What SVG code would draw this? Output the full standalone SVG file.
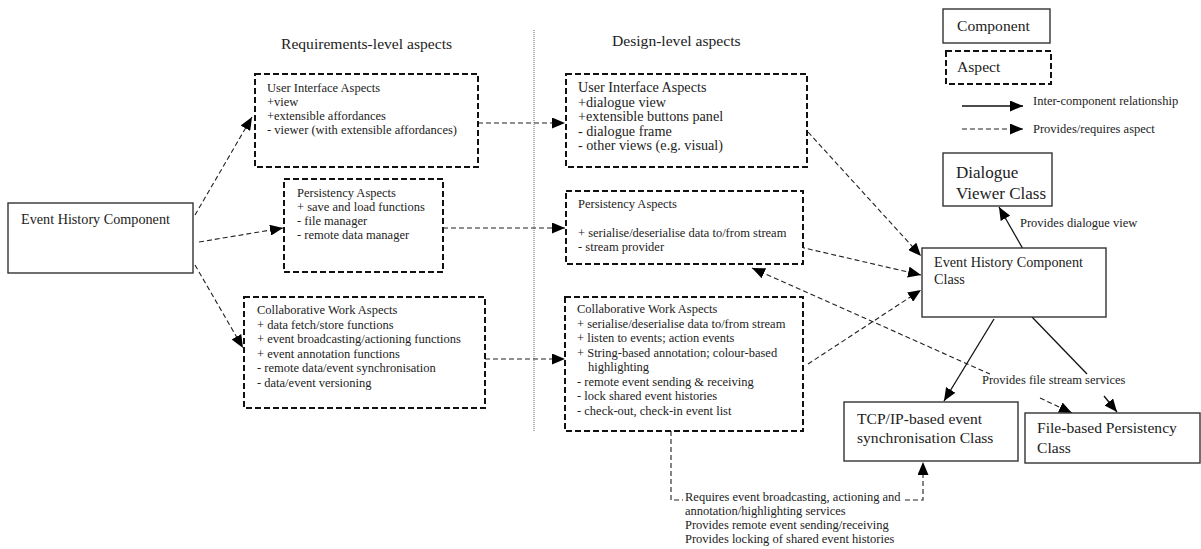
<svg xmlns="http://www.w3.org/2000/svg" width="1201" height="549" viewBox="0 0 1201 549">
  <style>
    text { font-family: "Liberation Serif", "Times New Roman", serif; fill: #222; }
    .t12 { font-size: 12.5px; }
    .t14 { font-size: 14.2px; }
    .t15 { font-size: 15.6px; }
    .t16 { font-size: 17px; }
    .comp { fill: #fff; stroke: #333; stroke-width: 1.4; }
    .aspect { fill: #fff; stroke: #111; stroke-width: 2; stroke-dasharray: 6 3; }
    .dash { fill: none; stroke: #222; stroke-width: 1.1; stroke-dasharray: 5 3; }
    .solid { fill: none; stroke: #111; stroke-width: 1.3; }
    .divider { stroke: #666; stroke-width: 1; stroke-dasharray: 1 1; }
  </style>
  <defs>
    <marker id="arrow" markerUnits="userSpaceOnUse" markerWidth="13" markerHeight="11" refX="13" refY="5.5" orient="auto">
      <path d="M0,0 L13,5.5 L0,11 z" fill="#000"/>
    </marker>
    <marker id="arrowStart" markerUnits="userSpaceOnUse" markerWidth="13" markerHeight="11" refX="0" refY="5.5" orient="auto">
      <path d="M13,0 L0,5.5 L13,11 z" fill="#000"/>
    </marker>
  </defs>

  <!-- column headings and divider -->
  <g id="headings">
    <text class="t15" x="281" y="49">Requirements-level aspects</text>
    <text class="t15" x="612" y="46">Design-level aspects</text>
    <line class="divider" x1="534" y1="30" x2="534" y2="432"/>
  </g>

  <!-- legend -->
  <g id="legend">
    <rect class="comp" x="943" y="9" width="107" height="34"/>
    <text class="t15" x="957" y="31">Component</text>
    <rect class="aspect" x="946" y="51" width="105" height="33"/>
    <text class="t15" x="957" y="72">Aspect</text>
    <line class="solid" x1="962" y1="106" x2="1023" y2="106" marker-end="url(#arrow)"/>
    <text class="t12" x="1033" y="105">Inter-component relationship</text>
    <line class="dash" x1="962" y1="129" x2="1023" y2="129" marker-end="url(#arrow)"/>
    <text class="t12" x="1033" y="133">Provides/requires aspect</text>
  </g>

  <!-- connectors -->
  <g id="connectors">
    <!-- component to requirements-level aspects -->
    <line class="dash" x1="195" y1="215" x2="252" y2="117" marker-end="url(#arrow)"/>
    <line class="dash" x1="199" y1="242" x2="283" y2="228" marker-end="url(#arrow)"/>
    <line class="dash" x1="195" y1="265" x2="243" y2="348" marker-end="url(#arrow)"/>
    <!-- requirements-level to design-level -->
    <line class="dash" x1="478" y1="123" x2="565" y2="123" marker-end="url(#arrow)"/>
    <line class="dash" x1="443" y1="228" x2="565" y2="228" marker-end="url(#arrow)"/>
    <line class="dash" x1="485" y1="359" x2="565" y2="359" marker-end="url(#arrow)"/>
    <!-- design-level aspects to component class -->
    <line class="dash" x1="808" y1="132" x2="921" y2="256" marker-end="url(#arrow)"/>
    <line class="dash" x1="800" y1="247" x2="921" y2="275" marker-end="url(#arrow)"/>
    <line class="dash" x1="808" y1="364" x2="921" y2="290" marker-end="url(#arrow)"/>
    <!-- file stream services (interrupted by its label) -->
    <line class="dash" x1="752" y1="268" x2="990" y2="374" marker-start="url(#arrowStart)"/>
    <line class="dash" x1="1040" y1="398" x2="1072" y2="413" marker-end="url(#arrow)"/>
    <!-- inter-component relationships -->
    <line class="solid" x1="1023" y1="249" x2="999" y2="207" marker-end="url(#arrow)"/>
    <line class="solid" x1="994" y1="319" x2="944" y2="401" marker-end="url(#arrow)"/>
    <line class="solid" x1="1032" y1="317" x2="1087" y2="374"/>
    <line class="solid" x1="1104" y1="396" x2="1117" y2="412" marker-end="url(#arrow)"/>
    <!-- collaborative work to TCP/IP class -->
    <polyline class="dash" points="671,431 671,500 683,500"/>
    <polyline class="dash" points="905,500 923,500 923,462" marker-end="url(#arrow)"/>
  </g>

  <g id="event-history-component">
    <rect class="comp" x="8" y="203" width="185" height="70"/>
    <text class="t14" x="21" y="224">Event History Component</text>
  </g>

  <g id="req-ui-aspects">
    <rect class="aspect" x="255" y="74" width="223" height="93"/>
    <text class="t12" x="267" y="92">User Interface Aspects</text>
    <text class="t12" x="267" y="106">+view</text>
    <text class="t12" x="267" y="120">+extensible affordances</text>
    <text class="t12" x="267" y="134">- viewer (with extensible affordances)</text>
  </g>

  <g id="req-persistency-aspects">
    <rect class="aspect" x="284" y="179" width="159" height="93"/>
    <text class="t12" x="297" y="197">Persistency Aspects</text>
    <text class="t12" x="297" y="211">+ save and load functions</text>
    <text class="t12" x="297" y="225">- file manager</text>
    <text class="t12" x="297" y="239">- remote data manager</text>
  </g>

  <g id="req-collab-aspects">
    <rect class="aspect" x="244" y="297" width="241" height="111"/>
    <text class="t12" x="257" y="314">Collaborative Work Aspects</text>
    <text class="t12" x="257" y="328.5">+ data fetch/store functions</text>
    <text class="t12" x="257" y="343">+ event broadcasting/actioning functions</text>
    <text class="t12" x="257" y="357.5">+ event annotation functions</text>
    <text class="t12" x="257" y="372">- remote data/event synchronisation</text>
    <text class="t12" x="257" y="386.5">- data/event versioning</text>
  </g>

  <g id="design-ui-aspects">
    <rect class="aspect" x="566" y="74" width="241" height="93"/>
    <text class="t14" x="578" y="92">User Interface Aspects</text>
    <text class="t14" x="578" y="106.5">+dialogue view</text>
    <text class="t14" x="578" y="121">+extensible buttons panel</text>
    <text class="t14" x="578" y="135.5">- dialogue frame</text>
    <text class="t14" x="578" y="150">- other views (e.g. visual)</text>
  </g>

  <g id="design-persistency-aspects">
    <rect class="aspect" x="566" y="191" width="237" height="73"/>
    <text class="t12" x="578" y="208">Persistency Aspects</text>
    <text class="t12" x="578" y="237">+ serialise/deserialise data to/from stream</text>
    <text class="t12" x="578" y="251">- stream provider</text>
  </g>

  <g id="design-collab-aspects">
    <rect class="aspect" x="565" y="297" width="238" height="134"/>
    <text class="t12" x="577" y="313">Collaborative Work Aspects</text>
    <text class="t12" x="577" y="327.5">+ serialise/deserialise data to/from stream</text>
    <text class="t12" x="577" y="342">+ listen to events; action events</text>
    <text class="t12" x="577" y="356.5">+ String-based annotation; colour-based</text>
    <text class="t12" x="588" y="371">highlighting</text>
    <text class="t12" x="577" y="385.5">- remote event sending &amp; receiving</text>
    <text class="t12" x="577" y="400">- lock shared event histories</text>
    <text class="t12" x="577" y="414.5">- check-out, check-in event list</text>
  </g>

  <g id="dialogue-viewer-class">
    <rect class="comp" x="943" y="153" width="109" height="53"/>
    <text class="t16" x="956" y="178">Dialogue</text>
    <text class="t16" x="956" y="199">Viewer Class</text>
  </g>

  <g id="event-history-component-class">
    <rect class="comp" x="922" y="248" width="184" height="69"/>
    <text class="t14" x="934" y="267">Event History Component</text>
    <text class="t14" x="934" y="284">Class</text>
  </g>

  <g id="tcpip-sync-class">
    <rect class="comp" x="844" y="402" width="174" height="59"/>
    <text class="t15" x="857" y="424">TCP/IP-based event</text>
    <text class="t15" x="857" y="443">synchronisation Class</text>
  </g>

  <g id="file-persistency-class">
    <rect class="comp" x="1025" y="413" width="175" height="50"/>
    <text class="t15" x="1037" y="433">File-based Persistency</text>
    <text class="t15" x="1037" y="453">Class</text>
  </g>

  <!-- connector labels -->
  <g id="labels">
    <text class="t12" x="1020" y="227">Provides dialogue view</text>
    <text class="t12" x="982" y="384">Provides file stream services</text>
    <text class="t12" x="685" y="501">Requires event broadcasting, actioning and</text>
    <text class="t12" x="685" y="515">annotation/highlighting services</text>
    <text class="t12" x="685" y="529">Provides remote event sending/receiving</text>
    <text class="t12" x="685" y="543">Provides locking of shared event histories</text>
  </g>
</svg>
